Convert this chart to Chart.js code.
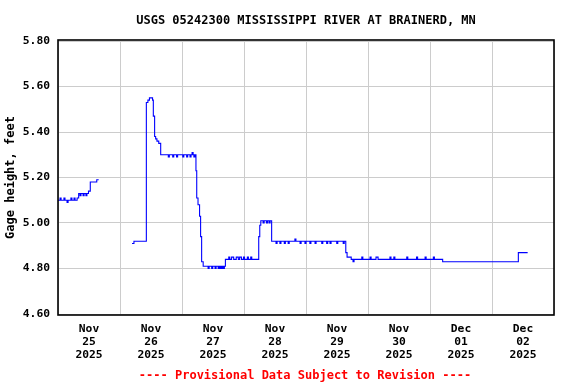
<!DOCTYPE html>
<html lang="en">
<head>
<meta charset="utf-8">
<script src="https://cdn.jsdelivr.net/npm/chart.js@4/dist/chart.umd.min.js"></script>
<style>
  body { margin: 0; background: #fff; }
  #cadre { position: relative; width: 576px; height: 384px; }
  #gageChart { display: block; }
  .txt { position: absolute; font: bold 12px "DejaVu Sans Mono", monospace; line-height: 14px; white-space: pre; transform: translateX(-50%); }
  #titre { left: 306px; top: 13px; color: #000; }
  #pied { left: 305px; top: 368px; color: #f00; }
</style>
</head>
<body>
<div id="cadre">
  <canvas id="gageChart" width="576" height="384"></canvas>
  <div id="titre" class="txt">USGS 05242300 MISSISSIPPI RIVER AT BRAINERD, MN</div>
  <div id="pied" class="txt">---- Provisional Data Subject to Revision ----</div>
</div>
<script>
// heures depuis le 25 nov 00:00, null = trou dans les données
const heures = [
  0, 0.8, 1.2, 2.3, 2.7, 3.5, 3.9, 5.0, 5.4, 6.2, 6.6, 7.4, 8.0, 8.5, 8.9, 9.7, 10.1, 10.8, 11.2, 11.8, 12.5, 15.0, 15.75,
  22,
  28.65, 29.4, 34.2, 34.8, 35.4, 36.6, 36.9, 37.4, 37.8, 38.3, 39.0, 39.75,
  42.7, 43.1, 44.4, 44.8, 45.9, 46.3, 48.3, 48.7, 49.8, 50.2, 51.1, 51.5, 51.9, 52.3, 52.6, 53.0,
  53.4, 53.7, 54.2, 54.8, 55.2, 55.6, 56.2,
  58.1, 58.5, 59.5, 59.9, 60.8, 61.2, 62.0, 62.4, 62.7, 63.1, 63.4, 63.8, 64.0, 64.4,
  64.8, 66.1, 66.5, 67.2, 68.0, 69.0, 69.8, 70.3, 71.0, 71.8, 72.2, 73.3, 73.7, 74.6, 75.0,
  77.7, 78.1, 78.5, 79.4, 79.8, 80.7, 81.1, 81.7, 82.1,
  82.7, 84.4, 84.8, 85.9, 86.3, 87.6, 88.0, 89.1, 89.5, 91.7, 92.1, 93.7, 94.1, 95.6, 96.0,
  97.5, 97.9, 99.5, 99.9, 102.1, 102.5, 104.0, 104.4, 105.3, 105.7, 107.9, 108.3, 110.4, 110.8,
  111.4, 111.9, 113.5, 114.2, 114.6, 117.6, 118.0, 120.8, 121.2, 123.1, 123.9, 128.5, 128.9,
  130.0, 130.4, 135.0, 135.4, 138.8, 139.2, 142.1, 142.5, 145.3, 145.7,
  148.9, 178.2, 181.8
];

const hauteurs = [
  5.10, 5.11, 5.10, 5.11, 5.10, 5.09, 5.10, 5.11, 5.10, 5.11, 5.10, 5.11, 5.13, 5.12, 5.13, 5.12, 5.13, 5.12, 5.13, 5.14, 5.18, 5.19, 5.19,
  null,
  4.91, 4.92, 5.53, 5.54, 5.55, 5.54, 5.47, 5.38, 5.37, 5.36, 5.35, 5.30,
  5.29, 5.30, 5.29, 5.30, 5.29, 5.30, 5.29, 5.30, 5.29, 5.30, 5.29, 5.30, 5.31, 5.30, 5.29, 5.30,
  5.23, 5.11, 5.08, 5.03, 4.94, 4.83, 4.81,
  4.80, 4.81, 4.80, 4.81, 4.80, 4.81, 4.80, 4.81, 4.80, 4.81, 4.80, 4.81, 4.80, 4.81,
  4.84, 4.85, 4.84, 4.85, 4.84, 4.85, 4.84, 4.85, 4.84, 4.85, 4.84, 4.85, 4.84, 4.85, 4.84,
  4.94, 4.99, 5.01, 5.00, 5.01, 5.00, 5.01, 5.00, 5.01,
  4.92, 4.91, 4.92, 4.91, 4.92, 4.91, 4.92, 4.91, 4.92, 4.93, 4.92, 4.91, 4.92, 4.91, 4.92,
  4.91, 4.92, 4.91, 4.92, 4.91, 4.92, 4.91, 4.92, 4.91, 4.92, 4.91, 4.92, 4.91, 4.92,
  4.87, 4.85, 4.84, 4.83, 4.84, 4.85, 4.84, 4.85, 4.84, 4.85, 4.84, 4.85, 4.84,
  4.85, 4.84, 4.85, 4.84, 4.85, 4.84, 4.85, 4.84, 4.85, 4.84,
  4.83, 4.87, 4.87
];

// étiquettes des jours (centrées à midi)
const jours = [
  ['Nov', '25', '2025'],
  ['Nov', '26', '2025'],
  ['Nov', '27', '2025'],
  ['Nov', '28', '2025'],
  ['Nov', '29', '2025'],
  ['Nov', '30', '2025'],
  ['Dec', '01', '2025'],
  ['Dec', '02', '2025']
];

const policeAxe = { family: 'DejaVu Sans Mono', weight: 'bold', size: 11.3, lineHeight: 1.12 };

// cadre noir autour de la zone du graphique
const cadrePlugin = {
  id: 'cadre',
  afterDatasetsDraw(chart) {
    const { ctx, chartArea: a } = chart;
    ctx.save();
    ctx.strokeStyle = '#000';
    ctx.lineWidth = 1.6;
    ctx.strokeRect(a.left, a.top - 1, a.right - a.left, a.bottom - a.top + 2);
    ctx.restore();
  }
};

const gageChart = new Chart(document.getElementById('gageChart'), {
  type: 'line',
  data: {
    datasets: [{
      data: heures.map((h, i) => ({ x: h, y: hauteurs[i] })),
      borderColor: '#0000ff',
      borderWidth: 1.1,
      pointRadius: 0,
      stepped: true,
      spanGaps: false,
      fill: false
    }]
  },
  options: {
    responsive: false,
    animation: false,
    layout: { padding: { top: 41, right: 22, left: 0, bottom: 0 } },
    plugins: { legend: { display: false }, tooltip: { enabled: false } },
    scales: {
      x: {
        type: 'linear',
        min: 0,
        max: 192,
        afterFit: s => { s.height = 70; },
        border: { display: false },
        grid: {
          drawTicks: false,
          color: c => (c.tick && c.tick.value % 24 === 0) ? '#cccccc' : 'rgba(0,0,0,0)'
        },
        ticks: {
          stepSize: 12,
          autoSkip: false,
          maxRotation: 0,
          padding: 9,
          color: '#000',
          font: policeAxe,
          callback: v => (v % 24 === 12) ? jours[(v - 12) / 24] : ''
        }
      },
      y: {
        min: 4.6,
        max: 5.8,
        afterFit: s => { s.width = 58; },
        border: { display: false },
        grid: { drawTicks: false, color: '#cccccc' },
        ticks: {
          stepSize: 0.2,
          padding: 8,
          color: '#000',
          font: policeAxe,
          callback: v => v.toFixed(2)
        },
        title: {
          display: true,
          text: 'Gage height, feet',
          color: '#000',
          font: { family: 'DejaVu Sans Mono', weight: 'bold', size: 12 },
          padding: { top: 4, bottom: 0 }
        }
      }
    }
  },
  plugins: [cadrePlugin]
});
</script>
</body>
</html>
